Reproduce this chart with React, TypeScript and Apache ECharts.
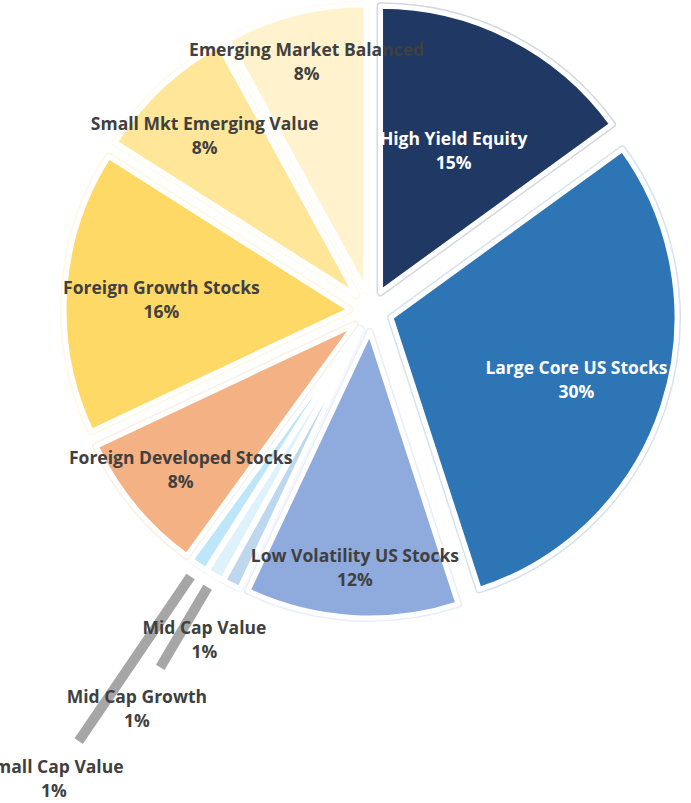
import React, { useEffect, useRef } from 'react';
import * as echarts from 'echarts';

const categories = [
  'High Yield Equity',
  'Large Core US Stocks',
  'Low Volatility US Stocks',
  'Mid Cap Value',
  'Mid Cap Growth',
  'Small Cap Value',
  'Foreign Developed Stocks',
  'Foreign Growth Stocks',
  'Small Mkt Emerging Value',
  'Emerging Market Balanced',
];
const values = [15, 30, 12, 1, 1, 1, 8, 16, 8, 8];

const colors = [
  '#1f3864', '#2e75b6', '#8faadc', '#bdd7ee', '#def2fc',
  '#bde6fa', '#f4b183', '#ffd966', '#ffe699', '#fff2cc',
];
const labelColors = [
  '#ffffff', '#ffffff', '#404040', '#404040', '#404040',
  '#404040', '#404040', '#404040', '#404040', '#404040',
];

// layout constants
const CX = 371;
const CY = 311;
const R = 286;
const EXPLODE = 21;
const LABEL_DY = 1;
const labelRadius = [182, 216, 256, 367, 460, 564, 247, 210, 243, 259];
const leaderLines: (null | [number, number])[] = [
  null, null, null, null, [321, 414], [321, 520], null, null, null, null,
];

export default function App() {
  const ref = useRef<HTMLDivElement>(null);
  useEffect(() => {
    const chart = echarts.init(ref.current!, null, { renderer: 'svg' });
    const total = values.reduce((a, b) => a + b, 0);
    const mids: number[] = [];
    let acc = 0;
    values.forEach((v) => {
      mids.push(((acc + v / 2) / total) * 360);
      acc += v;
    });
    const pt = (r: number, deg: number) => {
      const a = (deg * Math.PI) / 180;
      return [CX + r * Math.sin(a), CY - r * Math.cos(a)];
    };

    const base = {
      type: 'pie' as const,
      center: [CX, CY],
      radius: R,
      startAngle: 90,
      clockwise: true,
      avoidLabelOverlap: false,
      selectedMode: 'multiple' as const,
      selectedOffset: EXPLODE,
      emphasis: { disabled: true },
      animation: false,
    };

    chart.setOption({
      animation: false,
      backgroundColor: '#ffffff',
      series: [
        {
          ...base,
          silent: true,
          label: { show: false },
          labelLine: { show: false },
          itemStyle: { opacity: 0.2, borderWidth: 8 },
          data: categories.map((name, i) => ({
            name,
            value: values[i],
            selected: true,
            itemStyle: { color: colors[i], borderColor: colors[i] },
          })),
        },
        {
          ...base,
          silent: true,
          label: { show: false },
          labelLine: { show: false },
          itemStyle: { borderColor: '#ffffff', borderWidth: 5 },
          data: categories.map((name, i) => ({
            name,
            value: values[i],
            selected: true,
            itemStyle: { color: colors[i] },
          })),
        },
        {
          type: 'pie',
          center: [CX, CY],
          radius: R,
          startAngle: 90,
          clockwise: true,
          avoidLabelOverlap: false,
          silent: true,
          itemStyle: { color: 'rgba(0,0,0,0)', borderWidth: 0 },
          label: {
            show: true,
            formatter: (p: any) => `${p.name}\n${p.value}%`,
            fontFamily: 'Open Sans',
            fontWeight: 'bold',
            fontSize: 17.5,
            lineHeight: 24,
            align: 'center',
          },
          labelLine: {
            show: false,
            lineStyle: { color: '#a6a6a6', width: 10, cap: 'butt' },
          },
          labelLayout: (p: any) => {
            const i = p.dataIndex;
            const [x, y] = pt(labelRadius[i], mids[i]);
            const ll = leaderLines[i];
            const res: any = { x, y: y + LABEL_DY, align: 'center', verticalAlign: 'middle' };
            if (ll) res.labelLinePoints = [pt(ll[0], mids[i]), pt(ll[1], mids[i])];
            return res;
          },
          data: categories.map((name, i) => ({
            name,
            value: values[i],
            label: {
              color: labelColors[i],
              position: leaderLines[i] ? 'outside' : 'inside',
            },
            labelLine: { show: !!leaderLines[i] },
          })),
        },
      ],
    });
    return () => chart.dispose();
  }, []);
  return (
    <div
      ref={ref}
      style={{ position: 'fixed', left: 0, top: 0, width: 691, height: 803, background: '#fff' }}
    />
  );
}
